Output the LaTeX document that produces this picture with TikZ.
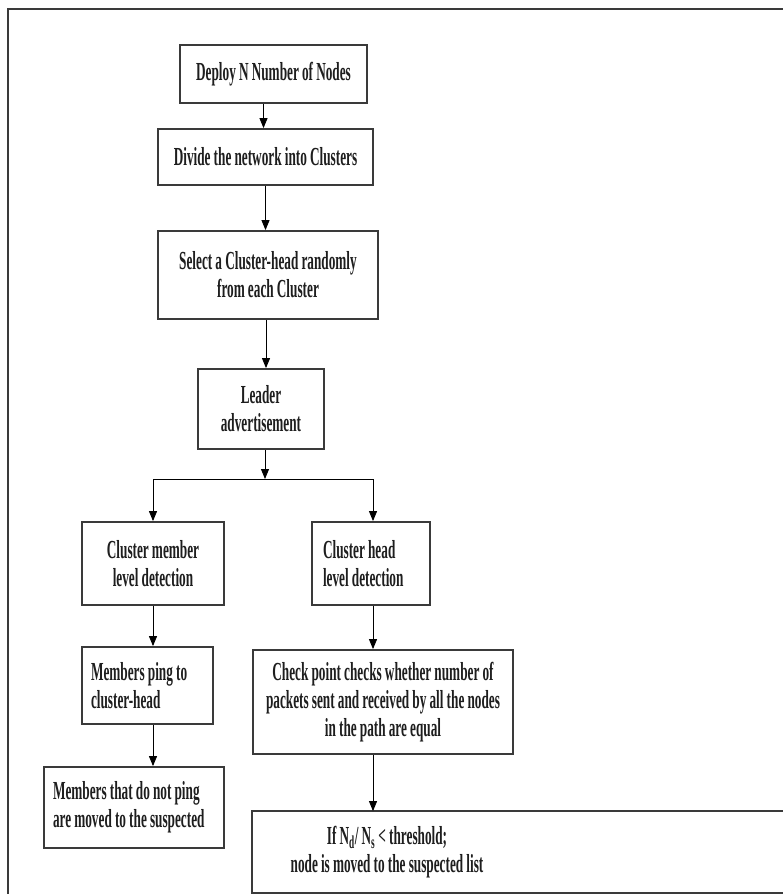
\documentclass[tikz,border=0pt]{standalone}
\usepackage{fontspec}
\setmainfont{Liberation Serif}[FakeStretch=0.51, WordSpace=0.95]
\usepackage{xcolor}
\definecolor{boxline}{HTML}{3A3A3A}
\definecolor{inktext}{HTML}{1E1E1E}
\usetikzlibrary{arrows.meta}

\begin{document}
\begin{tikzpicture}[x=1pt, y=-1pt,
	stepbox/.style 2 args={draw=boxline, line width=1.8pt, inner sep=0pt,
		minimum width=#1, minimum height=#2, align=center, text=inktext,
		font=\fontsize{26}{28}\selectfont\bfseries,
		execute at begin node={\spaceskip=0pt\xspaceskip=0pt}},
	flow/.style={-{Triangle[length=10pt, width=8pt]}, line width=0.9pt, black}]
	
	\useasboundingbox (0,0) rectangle (783,894);
	\clip (0,0) rectangle (783,894);
	
	% outer frame (cut by the page)
	\draw[boxline, line width=2pt] (8,9) rectangle (800,910);
	
	% main column
	\node[stepbox={187pt}{58pt}] (deploy) at (273.5,74) {Deploy N Number of Nodes};
	\node[stepbox={215pt}{56pt}] (divide) at (265.5,157) {Divide the network into Clusters};
	\node[stepbox={220pt}{88pt}] (select) at (268,275) {Select a Cluster-head randomly\\from each Cluster};
	\node[stepbox={126pt}{80pt}] (leader) at (261,409) {Leader\\advertisement};
	
	% left branch
	\node[stepbox={142pt}{83pt}] (member) at (153,563.5) {Cluster member\\level detection};
	\node[stepbox={131pt}{77pt}, align=left, text width=113pt, inner xsep=9pt] (ping) at (147.5,685.5) {Members ping to\\cluster-head};
	\node[stepbox={180pt}{81pt}, align=left, text width=162pt, inner xsep=9pt] (noping) at (134,807.5) {Members that do not ping\\are moved to the suspected};
	
	% right branch
	\node[stepbox={118pt}{83pt}, align=left, text width=96pt, inner xsep=11pt] (head) at (371,563.5) {Cluster head\\level detection};
	\node[stepbox={260pt}{104pt}] (check) at (383,702) {Check point checks whether number of\\packets sent and received by all the nodes\\in the path are equal};
	\node[stepbox={268pt}{80pt}, draw=none] (ratio) at (387,852) {If N\textsubscript{d}/ N\textsubscript{s} < threshold;\\node is moved to the suspected list};
	\draw[boxline, line width=1.8pt] (ratio.north west) rectangle ([xshift=280pt]ratio.south east);
	
	% connectors
	\draw[flow] ([xshift=-10pt]deploy.south) -- ([xshift=-10pt]deploy.south |- divide.north);
	\draw[flow] (divide.south) -- (divide.south |- select.north);
	\draw[flow] ([xshift=-2pt]select.south) -- ([xshift=-2pt]select.south |- leader.north);
	
	\coordinate (split) at (265,479);
	\coordinate (splitL) at (member.north |- split);
	\coordinate (splitR) at ([xshift=2pt]head.north |- split);
	\draw[flow] ([xshift=4pt]leader.south) -- (split);
	\draw[line width=0.9pt] (splitL) -- (splitR);
	\draw[flow] (splitL) -- (member.north);
	\draw[flow] (splitR) -- (splitR |- head.north);
	
	\draw[flow] (member.south) -- (member.south |- ping.north);
	\draw[flow] (member.south |- ping.south) -- (member.south |- noping.north);
	\draw[flow] ([xshift=2pt]head.south) -- ([xshift=2pt]head.south |- check.north);
	\draw[flow] ([xshift=2pt]head.south |- check.south) -- ([xshift=2pt]head.south |- ratio.north);
\end{tikzpicture}
\end{document}
